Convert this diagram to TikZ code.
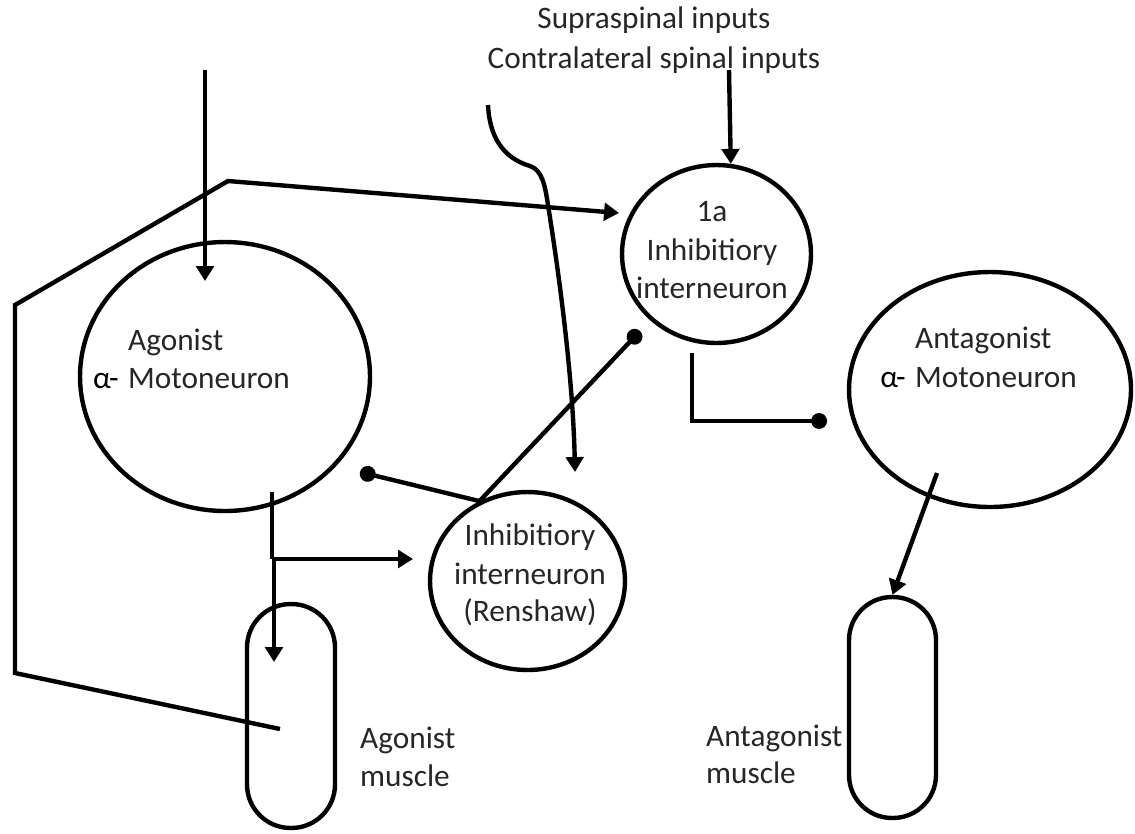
\documentclass[tikz,border=0pt]{standalone}
\usepackage{fontspec}
\setmainfont{Carlito}
\usetikzlibrary{arrows.meta,shapes.geometric}
\begin{document}
\begin{tikzpicture}[x=0.02cm,y=-0.02cm,line width=2.5pt,
  cell/.style={draw,ellipse,inner sep=0pt},
  musc/.style={draw,rectangle,inner sep=0pt},
  lbl/.style={inner sep=0pt,font=\fontsize{17.8}{22}\selectfont,text=black!85},
  arr/.style={-{Triangle[length=8.5pt,width=10pt]}},
  inh/.style={-{Circle[length=9pt]}}]
\useasboundingbox (0,0) rectangle (1135,833);

% cells
\node[cell,minimum width=5.8cm,minimum height=5.38cm] (ag) at (225,376.5) {};
\node[cell,minimum width=3.78cm,minimum height=3.56cm] (ia) at (716.5,254) {};
\node[cell,minimum width=5.64cm,minimum height=4.7cm] (ant) at (990,389.5) {};
\node[cell,minimum width=3.9cm,minimum height=3.56cm] (rs) at (527.5,581) {};

% muscles
\node[musc,minimum width=1.76cm,minimum height=4.48cm,rounded corners=0.87cm] (agm) at (291,716) {};
\node[musc,minimum width=1.74cm,minimum height=4.42cm,rounded corners=0.86cm] (anm) at (892.5,707.5) {};

% labels
\node[lbl,anchor=base] (sup1) at (654,28) {Supraspinal inputs};
\node[lbl,anchor=base] (sup2) at (654,68) {Contralateral spinal inputs};

\node[lbl,anchor=base west] (agt1) at (126,350) {Agonist};
\node[lbl,anchor=base west] (agt2) at (126,388) {Motoneuron};
\node[lbl,anchor=base east,text=black] (agt3) at (121,388) {α\kern-1pt-};

\node[lbl,anchor=base west] (ant1) at (913,348) {Antagonist};
\node[lbl,anchor=base west] (ant2) at (913,387) {Motoneuron};
\node[lbl,anchor=base east,text=black] (ant3) at (908,387) {α\kern-1pt-};

\node[lbl,anchor=base] (ia1) at (712,221) {1a};
\node[lbl,anchor=base] (ia2) at (712,260) {Inhibitiory};
\node[lbl,anchor=base] (ia3) at (712,298) {interneuron};

\node[lbl,anchor=base] (rs1) at (530,545) {Inhibitiory};
\node[lbl,anchor=base] (rs2) at (530,584) {interneuron};
\node[lbl,anchor=base] (rs3) at (530,621) {(Renshaw)};

\node[lbl,anchor=base west] (agm1) at (358,748) {Agonist};
\node[lbl,anchor=base west] (agm2) at (358,786) {muscle};
\node[lbl,anchor=base west] (anm1) at (704,746) {Antagonist};
\node[lbl,anchor=base west] (anm2) at (704,783) {muscle};

% coordinates
\coordinate (inA) at (205,70);
\coordinate (inAe) at (205,281);
\coordinate (fb0) at (280,729);
\coordinate (fb1) at (15,673);
\coordinate (fb2) at (15,305);
\coordinate (fb3) at (228,181);
\coordinate (fbE) at (619,213);
\coordinate (supS) at (729,70);
\coordinate (cvS) at (488,105);
\coordinate (cvE) at (575,472);
\coordinate (rsIa) at (640,331);
\coordinate (rsAg) at (360,472);
\coordinate (iaS) at (692,353);
\coordinate (iaK) at (692,421);
\coordinate (iaE) at (827,421);
\coordinate (agS) at (272,492);
\coordinate (agK) at (272,559);
\coordinate (agK2) at (274,559);
\coordinate (agR) at (413,559);
\coordinate (agD) at (274,662);
\coordinate (antS) at (937,473);

% connectors
\draw[arr] (inA) -- (inAe);
\draw[arr] (fb0) -- (fb1) -- (fb2) -- (fb3) -- (fbE);
\draw[arr] (supS) -- (ia.81);
\draw[arr] (cvS) .. controls (490,145) and (510,160) .. (530,166)
  .. controls (542,170) and (545,185) .. (548,205)
  .. controls (560,280) and (573,380) .. (cvE);
\draw[inh] (rs.121) -- (rsIa);
\draw[inh] (rs.121) -- (rsAg);
\draw[inh] (iaS) -- (iaK) -- (iaE);
\draw (agS) -- (agK);
\draw[arr] (agK) -- (agR);
\draw[arr] (agK2) -- (agD);
\draw[arr] (antS) -- (anm.north);
\end{tikzpicture}
\end{document}
